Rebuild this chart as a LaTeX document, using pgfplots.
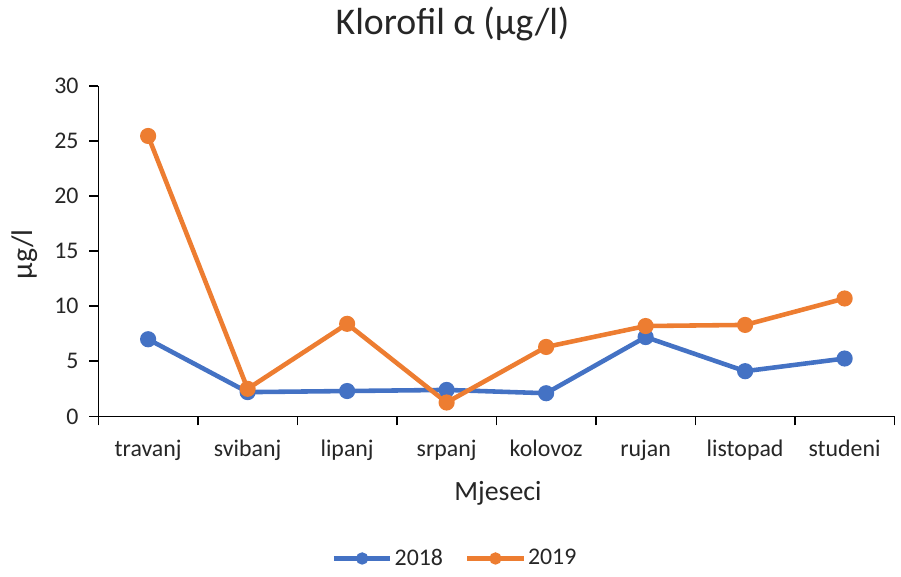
\documentclass[border=0pt]{standalone}
\usepackage{pgfplots}
\pgfplotsset{compat=1.18}
\usepackage{fontspec}
\setmainfont{Carlito}
\definecolor{cblue}{HTML}{4472C4}
\definecolor{corange}{HTML}{ED7D31}
\definecolor{ctext}{HTML}{262626}
\begin{document}
\begin{tikzpicture}
\begin{axis}[
  at={(0,0)}, anchor=south west,
  scale only axis,
  width=400.5pt, height=166.3pt,
  xmin=-0.5, xmax=7.5,
  ymin=0, ymax=30,
  ytick={0,5,...,30},
  xtick={-0.5,0.5,...,7.5},
  xticklabels={},
  extra x ticks={0,...,7},
  extra x tick labels={travanj,svibanj,lipanj,srpanj,kolovoz,rujan,listopad,studeni},
  extra x tick style={major tick length=0pt, tick style={draw=none}},
  tick style={black, line width=0.8pt},
  major tick length=4.5pt,
  tick align=outside,
  axis x line*=bottom,
  axis y line*=left,
  axis line style={black, line width=0.8pt, -},
  /pgf/number format/assume math mode=true,
  ticklabel style={font=\fontsize{12}{13}\selectfont, text=ctext},
  yticklabel style={xshift=-2pt},
  xticklabel style={yshift=-8.5pt},
  xlabel={Mjeseci},
  xlabel style={font=\fontsize{14}{16}\selectfont, text=ctext, at={(0.502,-0.232)}, anchor=center},
  ylabel={µg/l},
  ylabel style={font=\fontsize{15}{17}\selectfont, text=ctext, at={(-0.093,0.491)}, anchor=center, rotate=0},
  title={Klorofil α (µg/l)},
  title style={font=\fontsize{19}{22}\selectfont, text=ctext, at={(0.445,1.152)}, anchor=center},
  legend style={at={(0.448,-0.43)}, anchor=center, draw=none, legend columns=2,
    font=\fontsize{12}{13}\selectfont, text=ctext,
    /tikz/every odd column/.append style={column sep=0pt},
    /tikz/every even column/.append style={column sep=10pt},
    nodes={inner xsep=1pt}},
  legend image code/.code={
    \draw[#1, mark=none] (0cm,0cm) -- (1.0cm,0cm);
    \draw[#1, only marks, mark size=1.9pt] plot coordinates {(0.5cm,0cm)};
  },
  clip=false,
]
\addplot[cblue, line width=2.3pt, mark=*, mark size=2.9pt] coordinates {
(0,7.0) (1,2.2) (2,2.3) (3,2.4) (4,2.1) (5,7.2) (6,4.1) (7,5.25)};
\addlegendentry{2018}
\addplot[corange, line width=2.3pt, mark=*, mark size=2.9pt] coordinates {
(0,25.45) (1,2.5) (2,8.4) (3,1.26) (4,6.3) (5,8.2) (6,8.3) (7,10.7)};
\addlegendentry{2019}
\end{axis}
\useasboundingbox (-49.5pt,-74.85pt) rectangle (401pt,209.15pt);
\end{tikzpicture}
\end{document}
